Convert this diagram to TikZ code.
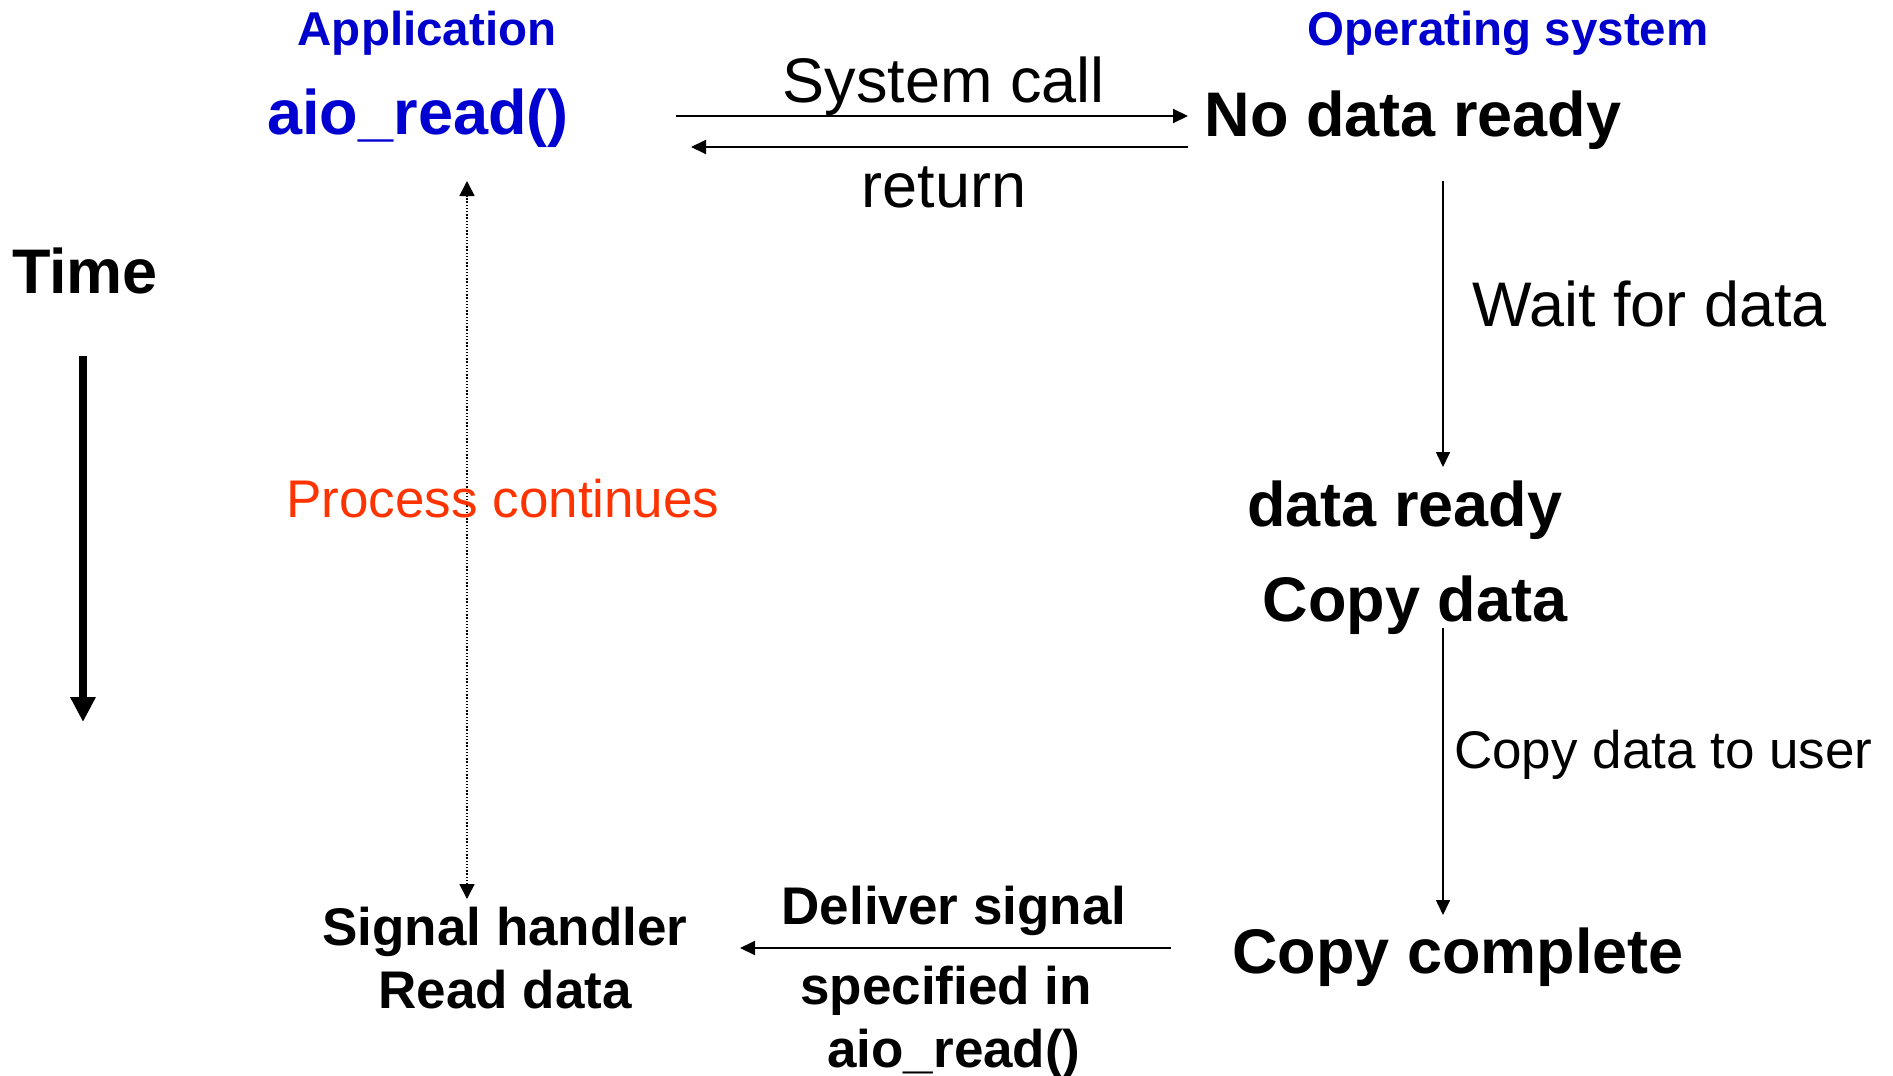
\documentclass[tikz,border=0pt]{standalone}
\usepackage{fontspec}
\setmainfont{Liberation Sans}
\usetikzlibrary{arrows.meta}
\definecolor{appblue}{HTML}{0000CC}
\definecolor{callblue}{HTML}{0000D0}
\definecolor{procred}{HTML}{FF3300}
\begin{document}
\begin{tikzpicture}[x=1pt,y=-1pt,
  txt/.style={inner sep=0pt, anchor=base},
  bigr/.style={txt, font=\fontsize{63}{70}\selectfont},
  bigb/.style={txt, font=\bfseries\fontsize{63}{70}\selectfont},
  midr/.style={txt, font=\fontsize{53}{60}\selectfont},
  midb/.style={txt, font=\bfseries\fontsize{53}{60}\selectfont},
  head/.style={txt, font=\bfseries\fontsize{47.5}{55}\selectfont, text=appblue},
  conn/.style={line width=2pt, -{Triangle[length=15pt,width=14pt]}},
  dotconn/.style={line width=1.6pt, dash pattern=on 1.4pt off 1.8pt,
     {Triangle[length=15pt,width=15pt]}-{Triangle[length=15pt,width=15pt]}},
  timearrow/.style={line width=8pt, -{Triangle[length=25pt,width=24pt]}}
]
\useasboundingbox (0,0) rectangle (1893,1076);

% headings
\node[head] (apphead) at (427,45) {Application};
\node[head] (oshead) at (1508,45) {Operating system};

% top row
\node[bigb, text=callblue] (aio) at (418,134) {aio\_read()};
\node[bigb] (nodata) at (1413,136) {No data ready};
\node[bigr] (syscall) at (944,102) {System call};
\node[bigr] (ret) at (944,207) {return};

% time
\node[bigb] (time) at (85,293) {Time};
\coordinate (t1) at (83,356);
\coordinate (t2) at (83,722);
\draw[timearrow] (t1) -- (t2);

% system call / return arrows
\coordinate (sc1) at (676,116);
\coordinate (sc2) at (1188,116);
\coordinate (rt1) at (1188,147);
\coordinate (rt2) at (691,147);
\draw[conn] (sc1) -- (sc2);
\draw[conn] (rt1) -- (rt2);

% process continues
\coordinate (pc1) at (467,181);
\coordinate (pc2) at (467,899);
\draw[dotconn] (pc2) -- (pc1);
\node[midr, text=procred] (proc) at (503,517) {Process continues};

% OS side
\coordinate (w1) at (1443,181);
\coordinate (w2) at (1443,467);
\draw[conn, line width=1.6pt] (w1) -- (w2);
\node[bigr, anchor=base west] (wait) at (1472,326) {Wait for data};
\node[bigb] (ready) at (1405,526) {data ready};
\node[bigb] (copy) at (1415,621) {Copy data};
\coordinate (c1) at (1443,628);
\coordinate (c2) at (1443,915);
\draw[conn, line width=1.6pt] (c1) -- (c2);
\node[midr, anchor=base west] (cdu) at (1454,768) {Copy data to user};
\node[bigb] (cc) at (1458,973) {Copy complete};

% signal
\node[midb] (deliver) at (954,924) {Deliver signal};
\node[midb] (spec) at (946,1004) {specified in};
\node[midb] (aio2) at (954,1067) {aio\_read()};
\coordinate (d1) at (1171,948);
\coordinate (d2) at (740,948);
\draw[conn] (d1) -- (d2);
\node[midb] (sh) at (505,945) {Signal handler};
\node[midb] (rd) at (505,1008) {Read data};
\end{tikzpicture}
\end{document}
